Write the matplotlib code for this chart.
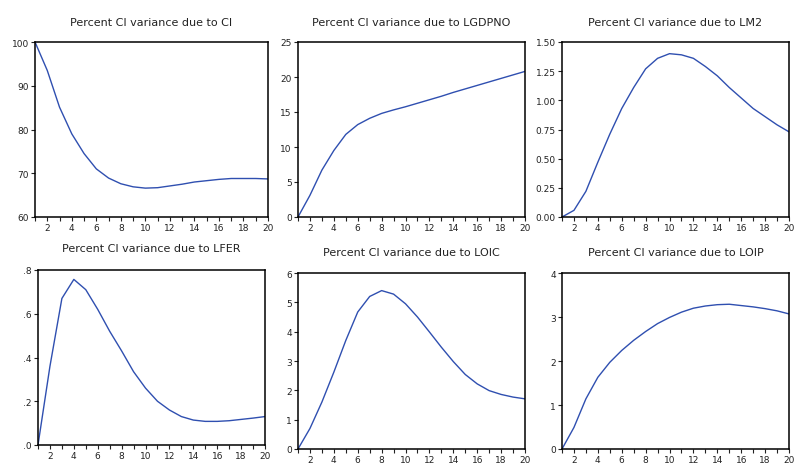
import matplotlib
matplotlib.use('Agg')
import matplotlib.pyplot as plt
import numpy as np

periods = list(range(1, 21))

ci = [100, 93.5, 85.1, 79.0, 74.5, 71.0, 68.9, 67.6, 66.9, 66.6,
      66.7, 67.1, 67.5, 68.0, 68.3, 68.6, 68.8, 68.8, 68.8, 68.7]
lgdpno = [0, 3.1, 6.7, 9.5, 11.8, 13.2, 14.1, 14.8, 15.3, 15.75,
          16.25, 16.75, 17.25, 17.8, 18.3, 18.8, 19.3, 19.8, 20.3, 20.8]
lm2 = [0, 0.057, 0.22, 0.47, 0.71, 0.93, 1.11, 1.27, 1.36, 1.40,
       1.39, 1.36, 1.29, 1.21, 1.11, 1.02, 0.93, 0.86, 0.79, 0.73]
lfer = [0, 0.36, 0.67, 0.757, 0.71, 0.62, 0.52, 0.43, 0.335, 0.26,
        0.20, 0.16, 0.13, 0.114, 0.108, 0.108, 0.111, 0.117, 0.123, 0.13]
loic = [0, 0.7, 1.6, 2.62, 3.7, 4.67, 5.2, 5.4, 5.28, 4.95,
        4.5, 3.99, 3.47, 2.98, 2.54, 2.22, 1.99, 1.86, 1.77, 1.71]
loip = [0, 0.49, 1.14, 1.63, 1.97, 2.24, 2.47, 2.67, 2.85, 2.99,
        3.11, 3.20, 3.25, 3.28, 3.29, 3.26, 3.23, 3.19, 3.14, 3.07]

titles = ['Percent CI variance due to CI', 'Percent CI variance due to LGDPNO',
          'Percent CI variance due to LM2', 'Percent CI variance due to LFER',
          'Percent CI variance due to LOIC', 'Percent CI variance due to LOIP']
series = [ci, lgdpno, lm2, lfer, loic, loip]
yticks = [[60, 70, 80, 90, 100], [0, 5, 10, 15, 20, 25],
          [0, 0.25, 0.5, 0.75, 1.0, 1.25, 1.5], [0, 0.2, 0.4, 0.6, 0.8],
          [0, 1, 2, 3, 4, 5, 6], [0, 1, 2, 3, 4]]
ylabels = [['60', '70', '80', '90', '100'], ['0', '5', '10', '15', '20', '25'],
           ['0.00', '0.25', '0.50', '0.75', '1.00', '1.25', '1.50'],
           ['.0', '.2', '.4', '.6', '.8'],
           ['0', '1', '2', '3', '4', '5', '6'], ['0', '1', '2', '3', '4']]

W, H = 795, 464
# left, right, top, bottom in pixels
boxes = [(35, 268, 43, 218), (298, 525, 43, 218), (562, 789, 43, 218),
         (38, 265, 271, 446), (298, 525, 274, 450), (562, 789, 274, 450)]
pads = [12, 12, 12, 14, 13, 13]

fig = plt.figure(figsize=(W / 100, H / 100), dpi=100)
for i in range(6):
    l, r, t, b = boxes[i]
    ax = fig.add_axes([l / W, 1 - b / H, (r - l) / W, (b - t) / H])
    ax.plot(periods, series[i], color='#2f4fb0', lw=1.0)
    ax.set_xlim(1, 20)
    ax.set_ylim(yticks[i][0], yticks[i][-1])
    ax.set_xticks(range(2, 21, 2))
    ax.set_xticks(range(1, 21, 2), minor=True)
    ax.set_yticks(yticks[i])
    ax.set_yticklabels(ylabels[i])
    ax.tick_params(axis='both', which='both', labelsize=6.5, colors='#222222',
                   length=3, width=0.8, pad=1.5)
    for s in ax.spines.values():
        s.set_linewidth(1.1)
    ax.set_title(titles[i], fontsize=8, pad=pads[i], color='#222222')

fig.savefig('out.png', dpi=100)
